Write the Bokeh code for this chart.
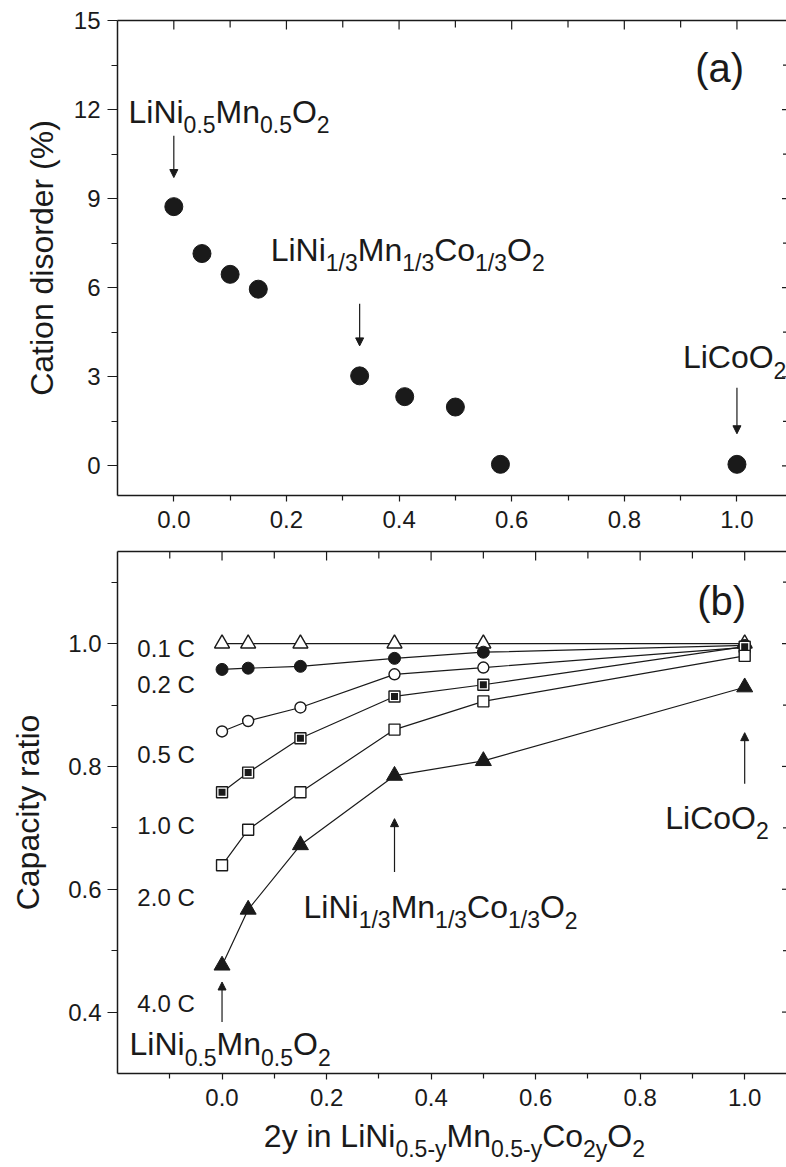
import re
import math
from bokeh.plotting import figure
from bokeh.layouts import column
from bokeh.models import (ColumnDataSource, LinearAxis, FixedTicker, Arrow,
                          NormalHead, Range1d, PrintfTickFormatter)
from bokeh.core.properties import value
from bokeh.embed import file_html
from bokeh.resources import INLINE

# ---------------- data ----------------
x_disorder = [0.0, 0.05, 0.10, 0.15, 0.33, 0.41, 0.50, 0.58, 1.0]
cation_disorder = [8.73, 7.15, 6.45, 5.95, 3.03, 2.33, 1.98, 0.05, 0.05]

x_rate = [0.0, 0.05, 0.15, 0.33, 0.50, 1.0]
rate_names = ["0.1 C", "0.2 C", "0.5 C", "1.0 C", "2.0 C", "4.0 C"]
cap_01C = [1.000, 1.000, 1.000, 1.000, 1.000, 1.000]
cap_02C = [0.958, 0.960, 0.963, 0.976, 0.986, 0.997]
cap_05C = [0.857, 0.874, 0.896, 0.950, 0.961, 0.994]
cap_10C = [0.758, 0.790, 0.846, 0.914, 0.933, 0.995]
cap_20C = [0.639, 0.697, 0.758, 0.860, 0.906, 0.980]
cap_40C = [0.476, 0.567, 0.672, 0.785, 0.809, 0.929]

top_yticks = [0, 3, 6, 9, 12, 15]
top_yminor = [1.5, 4.5, 7.5, 10.5, 13.5]
bot_yticks = [0.4, 0.6, 0.8, 1.0]
bot_yminor = [0.5, 0.7, 0.9, 1.1]
xticks = [0.0, 0.2, 0.4, 0.6, 0.8, 1.0]
xminor_a = [0.1, 0.3, 0.5, 0.7, 0.9]
xminor_b = [-0.1, 0.1, 0.3, 0.5, 0.7, 0.9]

FONT = "Liberation Sans"
INK = "#1a1a1a"
BASE_FIX = 0.34   # empirical baseline correction (em)

# Arial / Liberation Sans advance widths (em)
W = {'L': .556, 'i': .222, 'N': .722, 'M': .833, 'n': .556, 'C': .722,
     'o': .556, 'O': .778, '.': .278, '/': .278, '-': .333, 'y': .5,
     ' ': .278, '(': .333, ')': .333, 'a': .556, 'b': .556}
for d in "0123456789":
    W[d] = .556


def formula(p, x, y, s, main=32, sub=23, shift=10):
    parts = re.split(r'_\{([^}]*)\}', s)
    txt, xo, yo, fs = [], [], [], []
    off = 0.0
    for k, seg in enumerate(parts):
        if not seg:
            continue
        is_sub = (k % 2 == 1)
        size = sub if is_sub else main
        txt.append(seg)
        xo.append(off)
        yo.append((shift if is_sub else 0) - BASE_FIX * size)
        fs.append(f"{size}px")
        off += sum(W.get(c, .556) for c in seg) * size
    n = len(txt)
    src = ColumnDataSource(dict(x=[x] * n, y=[y] * n, text=txt, xo=xo, yo=yo, fs=fs))
    p.text(x='x', y='y', text='text', x_offset='xo', y_offset='yo',
           text_font_size='fs', text_font=value(FONT), text_color=INK,
           text_baseline="alphabetic", text_align="left", source=src)


def arrow(p, x, y0, y1):
    p.add_layout(Arrow(end=NormalHead(size=8, fill_color=INK, line_color=INK, line_width=1),
                       x_start=x, y_start=y0, x_end=x, y_end=y1,
                       line_color=INK, line_width=1.2))


def style_axis(ax, tick_out, minor_out, standoff, fmt):
    ax.axis_line_color = INK
    ax.axis_line_width = 1.5
    ax.major_tick_line_color = INK
    ax.minor_tick_line_color = INK
    ax.major_tick_line_width = 1.2
    ax.minor_tick_line_width = 1.2
    ax.major_tick_out = tick_out
    ax.major_tick_in = 0
    ax.minor_tick_out = minor_out
    ax.minor_tick_in = 0
    ax.major_label_text_font = FONT
    ax.major_label_text_color = INK
    ax.major_label_text_font_size = "24px"
    ax.major_label_standoff = standoff
    ax.formatter = PrintfTickFormatter(format=fmt)
    ax.axis_label_text_font = FONT
    ax.axis_label_text_font_style = "normal"
    ax.axis_label_text_font_size = "32px"
    ax.axis_label_text_color = INK


def frame_ticks(p, xmajor, xminor, ymajor, yminor):
    # top border line, ticks pointing inwards drawn as dashes clipped by the frame
    ax = LinearAxis(ticker=FixedTicker(ticks=[]))
    ax.axis_line_color = INK
    ax.axis_line_width = 1.5
    p.add_layout(ax, "above")
    top = p.y_range.end
    right = p.x_range.end
    p.scatter(xmajor, [top] * len(xmajor), marker="dash", angle=math.pi / 2,
              size=18, line_color=INK, line_width=1.2)
    p.scatter(xminor, [top] * len(xminor), marker="dash", angle=math.pi / 2,
              size=14, line_color=INK, line_width=1.2)
    # right-hand ticks (the right frame edge lies just beyond the picture)
    p.scatter([right] * len(ymajor), ymajor, marker="dash",
              size=9, line_color=INK, line_width=1.2)
    p.scatter([right] * len(yminor), yminor, marker="dash",
              size=7, line_color=INK, line_width=1.2)


def base_fig(w, h, xr, yr, ml, mt, mb):
    p = figure(width=w, height=h, x_range=xr, y_range=yr,
               x_axis_type=None, y_axis_type=None,
               min_border_left=ml, min_border_right=0,
               min_border_top=mt, min_border_bottom=mb,
               toolbar_location=None, output_backend="svg")
    p.outline_line_color = None
    p.background_fill_color = "white"
    p.border_fill_color = "white"
    p.xgrid.visible = False
    p.ygrid.visible = False
    return p


# ---------------- panel (a) ----------------
p1 = base_fig(786, 540, Range1d(-0.1, 1.088), Range1d(-1, 15), 117, 20, 45)

ax = LinearAxis(ticker=FixedTicker(ticks=top_yticks, minor_ticks=top_yminor),
                axis_label="Cation disorder (%)")
style_axis(ax, 10, 6, 7, "%d")
ax.axis_label_standoff = 11
p1.add_layout(ax, "left")

ax = LinearAxis(ticker=FixedTicker(ticks=xticks, minor_ticks=xminor_a))
style_axis(ax, 6, 5, 9, "%.1f")
p1.add_layout(ax, "below")

frame_ticks(p1, xticks, xminor_a, top_yticks[:-1], top_yminor)

p1.scatter(x_disorder, cation_disorder, size=18, marker="circle",
           fill_color=INK, line_color=INK)

formula(p1, -0.0805, 11.56, "LiNi_{0.5}Mn_{0.5}O_{2}")
formula(p1, 0.172, 6.91, "LiNi_{1/3}Mn_{1/3}Co_{1/3}O_{2}")
formula(p1, 0.904, 3.30, "LiCoO_{2}")
formula(p1, 0.926, 12.93, "(a)", main=40)
arrow(p1, 0.0, 11.12, 9.71)
arrow(p1, 0.33, 5.46, 4.04)
arrow(p1, 1.0, 2.63, 1.08)

# ---------------- panel (b) ----------------
p2 = base_fig(786, 579, Range1d(-0.2, 1.08), Range1d(0.3, 1.15), 114, 11, 46)

ax = LinearAxis(ticker=FixedTicker(ticks=bot_yticks, minor_ticks=bot_yminor),
                axis_label="Capacity ratio")
style_axis(ax, 10, 6, 6, "%.1f")
ax.axis_label_standoff = 19
p2.add_layout(ax, "left")

ax = LinearAxis(ticker=FixedTicker(ticks=xticks, minor_ticks=xminor_b))
style_axis(ax, 6, 5, 9, "%.1f")
p2.add_layout(ax, "below")

frame_ticks(p2, xticks, xminor_b, bot_yticks, bot_yminor)

series = [cap_01C, cap_02C, cap_05C, cap_10C, cap_20C, cap_40C]
for ys in series:
    p2.line(x_rate, ys, line_color=INK, line_width=1.2)

p2.scatter(x_rate, cap_01C, marker="triangle", size=15, fill_color="white",
           line_color=INK, line_width=1.4)
p2.scatter(x_rate, cap_02C, marker="circle", size=12, fill_color=INK,
           line_color=INK)
p2.scatter(x_rate, cap_05C, marker="circle", size=11, fill_color="white",
           line_color=INK, line_width=1.4)
p2.scatter(x_rate, cap_10C, marker="square", size=11, fill_color="white",
           line_color=INK, line_width=1.4)
p2.scatter(x_rate, cap_10C, marker="square", size=7, fill_color=INK,
           line_color=None)
p2.scatter(x_rate, cap_20C, marker="square", size=11, fill_color="white",
           line_color=INK, line_width=1.4)
p2.scatter(x_rate, cap_40C, marker="triangle", size=16, fill_color=INK,
           line_color=INK)

rate_label_y = [0.978, 0.9195, 0.806, 0.690, 0.573, 0.401]
p2.text(x=[-0.162] * len(rate_names), y=rate_label_y, text=rate_names,
        text_font=value(FONT), text_font_size="24px", text_color=INK,
        y_offset=-BASE_FIX * 24,
        text_baseline="alphabetic", text_align="left")

formula(p2, 0.909, 1.047, "(b)", main=40)
formula(p2, 0.848, 0.699, "LiCoO_{2}")
formula(p2, 0.156, 0.553, "LiNi_{1/3}Mn_{1/3}Co_{1/3}O_{2}")
formula(p2, -0.177, 0.330, "LiNi_{0.5}Mn_{0.5}O_{2}")
arrow(p2, 1.0, 0.772, 0.855)
arrow(p2, 0.33, 0.628, 0.715)
arrow(p2, 0.0, 0.384, 0.449)

# ---------------- x-axis title with subscripts ----------------
p3 = base_fig(786, 48, p2.x_range, Range1d(0, 1), 114, 0, 0)
formula(p3, 0.08, 0.42, "2y in LiNi_{0.5-y}Mn_{0.5-y}Co_{2y}O_{2}", shift=9)

layout = column(p1, p2, p3, spacing=0)
open("out.html", "w").write(file_html(layout, INLINE))
